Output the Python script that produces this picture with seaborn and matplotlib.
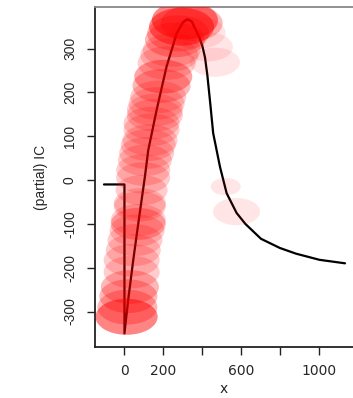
import numpy as np
import pandas as pd
import matplotlib
matplotlib.use("Agg")
import matplotlib.pyplot as plt
import seaborn as sns
from matplotlib.path import Path
from matplotlib.transforms import Affine2D

# curve (step part + IC curve)
curve_x = [-105, 0, 0, 19, 45, 71, 105, 122, 165, 216, 268, 300, 322, 345, 362,
           385, 400, 413, 425, 440, 455, 490, 524, 575, 620, 700, 797, 880, 1000, 1131]
curve_y = [-10, -10, -350, -274, -183, -99, 8, 68, 160, 259, 335, 360, 367, 362, 346,
           325, 305, 280, 240, 175, 107, 30, -30, -75, -100, -134, -155, -168, -182, -190]

# red points (centre, width in px, multiplicity)
pt_x = [11, 15, 20, 28, 37, 37, 45, 54, 65, 71, 71, 79, 79, 88, 96, 96, 105, 114,
        122, 131, 139, 139, 156, 156, 165, 173, 190, 199, 216, 230, 242, 259, 275,
        293, 310, 345, 378, 428, 464, 519, 575]
pt_y = [-312, -290, -265, -244, -210, -183, -160, -137, -115, -100, -91, -60, -53,
        -23, 5, 23, 45, 62, 80, 91, 115, 130, 148, 160, 175, 190, 215, 236, 267,
        285, 297, 320, 335, 350, 365, 358, 336, 304, 269, -15, -72]
pt_w = [62, 60, 58, 58, 56, 56, 55, 55, 55, 55, 55, 52, 52, 52, 54, 54, 54, 55,
        55, 55, 56, 56, 56, 56, 56, 56, 58, 58, 58, 58, 58, 60, 62, 65, 66, 62,
        55, 50, 50, 30, 47]
pt_n = [6, 3, 3, 3, 2, 2, 2, 2, 2, 3, 2, 2, 2, 2, 2, 2, 2, 2,
        2, 2, 2, 2, 2, 2, 2, 2, 3, 4, 2, 2, 2, 3, 3, 6, 6, 3,
        1, 1, 1, 1, 1]

x_ticks = [0, 200, 400, 600, 800, 1000]
x_labels = ["0", "200", "", "600", "", "1000"]
y_ticks = [-300, -200, -100, 0, 100, 200, 300]

pts = pd.DataFrame({"x": np.repeat(pt_x, pt_n), "y": np.repeat(pt_y, pt_n),
                    "w": np.repeat(pt_w, pt_n)})
line = pd.DataFrame({"x": curve_x, "y": curve_y})

sns.set_style("ticks")
fig = plt.figure(figsize=(3.53, 3.98), dpi=100)
ax = fig.add_axes([95 / 353, 51 / 398, 1 - 95 / 353, 340 / 398])

sns.lineplot(data=line, x="x", y="y", sort=False, estimator=None,
             color="black", linewidth=1.6, ax=ax, zorder=2)

ellipse = Path(Affine2D().scale(1, 0.58).transform(Path.unit_circle().vertices),
               Path.unit_circle().codes)
sns.scatterplot(data=pts, x="x", y="y", marker=ellipse, s=(0.72 * pts["w"]) ** 2,
                color="red", alpha=0.1, linewidth=0, edgecolor="none",
                ax=ax, zorder=3, legend=False)

ax.set_xlim(-151, 1172)
ax.set_ylim(-381, 395)
ax.set_xticks(x_ticks)
ax.set_xticklabels(x_labels, fontsize=10, family="DejaVu Sans")
ax.set_yticks(y_ticks)
ax.set_yticklabels([str(v) for v in y_ticks], rotation=90, va="center",
                   fontsize=10, family=["Liberation Sans Narrow", "Liberation Sans"])
ax.tick_params(axis="both", length=6, width=1, color="#222222", pad=7)
ax.tick_params(axis="x", pad=6)
ax.set_xlabel("x", fontsize=10, family="DejaVu Sans", labelpad=3)
ax.set_ylabel("(partial) IC", fontsize=10,
              family=["Liberation Sans Narrow", "Liberation Sans"], labelpad=11)

for s in ["left", "bottom"]:
    ax.spines[s].set_color("#222222")
    ax.spines[s].set_linewidth(1.3)
ax.spines["top"].set_color("#888888")
ax.spines["top"].set_linewidth(1.3)
ax.spines["right"].set_visible(False)

fig.savefig("out.png", dpi=100)
